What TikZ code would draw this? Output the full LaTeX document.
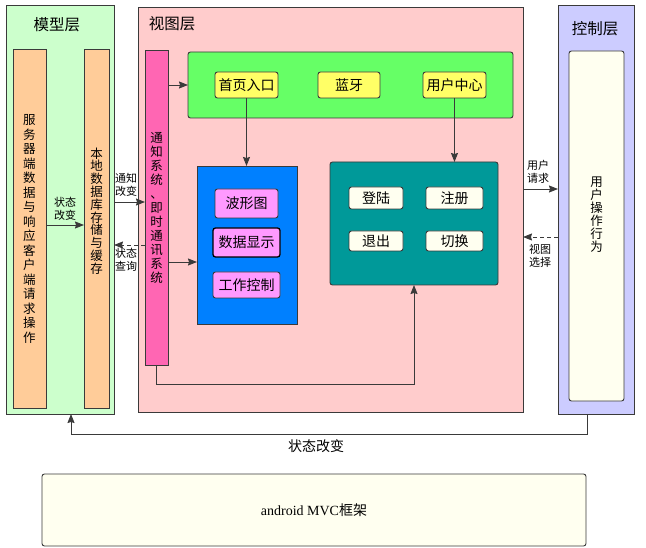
\documentclass[tikz,border=0pt]{standalone}
\usepackage{fontspec}
\setmainfont{Liberation Serif}
\newfontfamily\cjk{Noto Sans CJK SC}
\usetikzlibrary{arrows.meta,positioning}
\definecolor{MvcEdge}{HTML}{3A3A3A}
\definecolor{MvcModel}{HTML}{CCFFCC}
\definecolor{MvcOrange}{HTML}{FFCC99}
\definecolor{MvcView}{HTML}{FFCCCC}
\definecolor{MvcNotify}{HTML}{FF66B3}
\definecolor{MvcNav}{HTML}{66FF66}
\definecolor{MvcYellow}{HTML}{FFFF66}
\definecolor{MvcBlue}{HTML}{0080FF}
\definecolor{MvcMagenta}{HTML}{FF99FF}
\definecolor{MvcTeal}{HTML}{009999}
\definecolor{MvcIvory}{HTML}{FFFFF0}
\definecolor{MvcCtrl}{HTML}{CCCCFF}

\begin{document}
\begin{tikzpicture}[x=1pt,y=-1pt,
    box/.style={draw=MvcEdge,line width=0.9pt,inner sep=0pt,outer sep=0pt,
      font=\cjk\fontsize{14}{16}\selectfont,text=black},
    roundbox/.style={box,rounded corners=2.5pt},
    title/.style={font=\cjk\fontsize{15.5}{17}\selectfont},
    tag/.style={font=\cjk\fontsize{11}{13}\selectfont,align=center},
    arr/.style={draw=MvcEdge,line width=0.9pt,-{Stealth[length=9pt,width=7pt,inset=1pt]}},
    back/.style={arr,dash pattern=on 4pt off 3pt}]
  \useasboundingbox (0,0) rectangle (646,548);

  % model layer
  \node[box,fill=MvcModel,minimum width=108pt,minimum height=409pt] (model) at (60,209.5) {};
  \node[title] (modelT) at (57,25) {模型层};
  \node[box,fill=MvcOrange,minimum width=33pt,minimum height=359pt,align=center,
    font=\cjk\fontsize{12.5}{14.5}\selectfont] (server) at (29.5,229)
    {服\\务\\器\\端\\数\\据\\与\\响\\应\\客\\户\\端\\请\\求\\操\\作};
  \node[box,fill=MvcOrange,minimum width=25pt,minimum height=359pt] (local) at (96.5,228.5) {};
  \node[align=center,font=\cjk\fontsize{12.5}{12.8}\selectfont] (localT) at (96.5,211)
    {本\\地\\数\\据\\库\\存\\储\\与\\缓\\存};

  % view layer
  \node[box,fill=MvcView,minimum width=385pt,minimum height=405pt] (view) at (330.5,209.5) {};
  \node[title] (viewT) at (172,24) {视图层};
  \node[box,fill=MvcNotify,minimum width=23pt,minimum height=315pt,align=center,
    font=\cjk\fontsize{12.5}{14}\selectfont] (notify) at (156.5,207.5)
    {通\\知\\系\\统\\、\\即\\时\\通\\讯\\系\\统};
  \node[roundbox,fill=MvcNav,minimum width=325pt,minimum height=66pt] (nav) at (350.5,85) {};
  \node[roundbox,fill=MvcYellow,minimum width=63pt,minimum height=26pt] (home) at (246.5,85) {首页入口};
  \node[roundbox,fill=MvcYellow,minimum width=62pt,minimum height=26pt] (bt) at (349,85) {蓝牙};
  \node[roundbox,fill=MvcYellow,minimum width=63pt,minimum height=26pt] (user) at (454.5,85) {用户中心};

  \node[box,fill=MvcBlue,minimum width=100pt,minimum height=158pt] (wavebox) at (247,245) {};
  \node[roundbox,fill=MvcMagenta,minimum width=63pt,minimum height=29pt] (wave) at (246.5,203.5) {波形图};
  \node[roundbox,fill=MvcMagenta,minimum width=67pt,minimum height=29pt,line width=1.3pt,draw=black] (data) at (246.5,242.5) {数据显示};
  \node[roundbox,fill=MvcMagenta,minimum width=67pt,minimum height=26pt] (work) at (246.5,285) {工作控制};

  \node[roundbox,fill=MvcTeal,minimum width=168pt,minimum height=123pt] (account) at (414,223.5) {};
  \node[roundbox,fill=MvcIvory,minimum width=54pt,minimum height=22pt] (login) at (376,198) {登陆};
  \node[roundbox,fill=MvcIvory,minimum width=57pt,minimum height=22pt] (signup) at (454.5,198) {注册};
  \node[roundbox,fill=MvcIvory,minimum width=54pt,minimum height=20pt] (logout) at (376,241) {退出};
  \node[roundbox,fill=MvcIvory,minimum width=57pt,minimum height=20pt] (switch) at (454.5,241) {切换};

  % control layer
  \node[box,fill=MvcCtrl,minimum width=76pt,minimum height=409pt] (ctrl) at (596,209.5) {};
  \node[title] (ctrlT) at (595,29) {控制层};
  \node[roundbox,fill=MvcIvory,minimum width=55pt,minimum height=350pt] (ops) at (596.5,226) {};
  \node[align=center,font=\cjk\fontsize{12.5}{13}\selectfont] (opsT) at (596.5,215) {用\\户\\操\\作\\行\\为};

  % framework
  \node[roundbox,fill=MvcIvory,minimum width=544pt,minimum height=72pt,
    font=\fontsize{14}{16}\selectfont] (frame) at (314,510) {android MVC{\cjk 框架}};

  % connectors
  \coordinate (srvOut) at (46,225);
  \coordinate (notifyIn) at (114,202);
  \coordinate (queryOut) at (114,245);
  \coordinate (blueIn) at (197,262);
  \coordinate (reqOut) at (523,189);
  \coordinate (selOut) at (558,237);
  \coordinate (fbR) at (587,434);
  \coordinate (fbL) at (71,434);

  \draw[arr] (srvOut) -- (srvOut -| local.west);
  \node[tag] (srvT) at (65,209) {状态\\改变};
  \draw[arr] (notifyIn) -- (notifyIn -| notify.west);
  \node[tag] (notifyT) at (126,185) {通知\\改变};
  \draw[back] (queryOut -| notify.west) -- (queryOut);
  \node[tag] (queryT) at (126,260) {状态\\查询};

  \draw[arr] (notify.east |- nav.west) -- (nav.west);
  \draw[arr] (notify.east |- blueIn) -- (blueIn);
  \draw[arr] (notify.south) -- ++(0,19.5) -| (account.south);
  \draw[arr] (home.south) -- (home.south |- wavebox.north);
  \draw[arr] (user.south) -- (user.south |- account.north);

  \draw[arr] (reqOut) -- (reqOut -| ctrl.west);
  \node[tag] (reqT) at (538,172) {用户\\请求};
  \draw[back] (selOut) -- (selOut -| view.east);
  \node[tag] (selT) at (540,256) {视图\\选择};

  \draw[arr] (ctrl.south -| fbR) -- (fbR) -- (fbL) -- (model.south -| fbL);
  \node[font=\cjk\fontsize{14}{16}\selectfont] (fbT) at (316,446) {状态改变};
\end{tikzpicture}
\end{document}
